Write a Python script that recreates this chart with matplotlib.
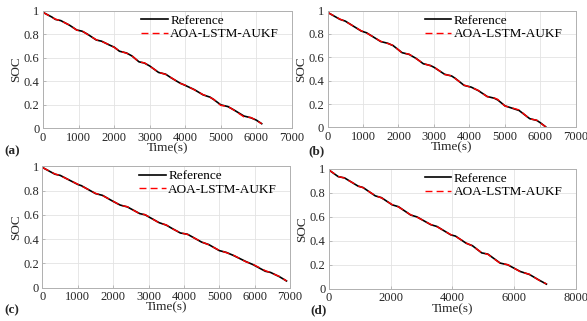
import matplotlib
matplotlib.use("Agg")
import matplotlib.pyplot as plt

plt.rcParams['font.family'] = ['Liberation Serif', 'DejaVu Serif']

# ---------------- data ----------------
t_a = [0, 250, 350, 500, 750, 950, 1100, 1250, 1500, 1650, 1850, 2000, 2150, 2350, 2500, 2700, 2850, 3000,
       3250, 3450, 3600, 3850, 4000, 4250, 4500, 4700, 4800, 5000, 5200, 5350, 5650, 5850, 6000, 6150]
ref_a = [0.985, 0.945, 0.925, 0.915, 0.875, 0.835, 0.825, 0.800, 0.750, 0.740, 0.710, 0.690, 0.655, 0.640,
         0.615, 0.565, 0.555, 0.530, 0.475, 0.460, 0.430, 0.385, 0.365, 0.330, 0.285, 0.265, 0.245, 0.200,
         0.185, 0.160, 0.105, 0.090, 0.070, 0.040]
est_a = [0.985, 0.943, 0.927, 0.913, 0.877, 0.833, 0.827, 0.798, 0.752, 0.738, 0.712, 0.688, 0.657, 0.638,
         0.617, 0.563, 0.557, 0.528, 0.477, 0.458, 0.432, 0.383, 0.367, 0.328, 0.287, 0.263, 0.247, 0.195,
         0.187, 0.158, 0.098, 0.092, 0.068, 0.040]

t_b = [0, 350, 500, 950, 1100, 1500, 1700, 1850, 2100, 2300, 2500, 2700, 2900, 3000, 3300, 3500, 3600,
       3850, 4050, 4250, 4500, 4700, 4800, 5000, 5200, 5400, 5700, 5900, 6000, 6150]
ref_b = [0.985, 0.925, 0.910, 0.825, 0.810, 0.735, 0.720, 0.700, 0.640, 0.625, 0.590, 0.545, 0.530, 0.515,
         0.455, 0.440, 0.420, 0.360, 0.345, 0.315, 0.265, 0.250, 0.235, 0.185, 0.165, 0.145, 0.075, 0.060,
         0.040, 0.005]
est_b = [0.985, 0.927, 0.908, 0.827, 0.808, 0.737, 0.718, 0.702, 0.638, 0.627, 0.588, 0.547, 0.528, 0.517,
         0.453, 0.442, 0.418, 0.362, 0.343, 0.317, 0.263, 0.252, 0.240, 0.183, 0.167, 0.150, 0.073, 0.062,
         0.038, 0.005]

t_c = [0, 350, 500, 1000, 1100, 1500, 1700, 2000, 2200, 2400, 2750, 2900, 3300, 3500, 3650, 3900, 4100,
       4500, 4700, 5000, 5200, 5400, 5750, 5950, 6300, 6450, 6700, 6900]
ref_c = [0.990, 0.935, 0.925, 0.850, 0.840, 0.775, 0.760, 0.710, 0.680, 0.665, 0.610, 0.600, 0.535, 0.515,
         0.490, 0.450, 0.440, 0.375, 0.355, 0.305, 0.290, 0.265, 0.215, 0.190, 0.135, 0.125, 0.090, 0.055]
est_c = [0.990, 0.937, 0.923, 0.852, 0.838, 0.777, 0.758, 0.712, 0.678, 0.667, 0.608, 0.602, 0.533, 0.517,
         0.488, 0.452, 0.438, 0.377, 0.353, 0.307, 0.288, 0.267, 0.213, 0.192, 0.140, 0.123, 0.092, 0.055]

t_d = [0, 300, 500, 950, 1100, 1500, 1700, 2050, 2250, 2650, 2850, 3300, 3500, 3950, 4100, 4450, 4650,
       4950, 5150, 5550, 5800, 6200, 6500, 6800, 7050]
ref_d = [0.990, 0.935, 0.925, 0.855, 0.845, 0.775, 0.760, 0.700, 0.685, 0.615, 0.600, 0.535, 0.520, 0.450,
         0.440, 0.380, 0.360, 0.300, 0.290, 0.215, 0.200, 0.145, 0.120, 0.075, 0.040]
est_d = [0.990, 0.937, 0.923, 0.857, 0.843, 0.777, 0.758, 0.702, 0.683, 0.617, 0.598, 0.537, 0.518, 0.452,
         0.438, 0.382, 0.358, 0.302, 0.288, 0.213, 0.202, 0.143, 0.122, 0.073, 0.042]

panels = [
    ("(a)", t_a, ref_a, est_a, 7000, [0, 1000, 2000, 3000, 4000, 5000, 6000, 7000]),
    ("(b)", t_b, ref_b, est_b, 7000, [0, 1000, 2000, 3000, 4000, 5000, 6000, 7000]),
    ("(c)", t_c, ref_c, est_c, 7000, [0, 1000, 2000, 3000, 4000, 5000, 6000, 7000]),
    ("(d)", t_d, ref_d, est_d, 8000, [0, 2000, 4000, 6000, 8000]),
]
yticks = [0, 0.2, 0.4, 0.6, 0.8, 1]
ytick_labels = ["0", "0.2", "0.4", "0.6", "0.8", "1"]

# ---------------- layout ----------------
fig = plt.figure(figsize=(5.87, 3.21), dpi=100)
rects = [
    [0.0733, 0.600, 0.424, 0.367],
    [0.5580, 0.603, 0.423, 0.364],
    [0.0724, 0.104, 0.4217, 0.378],
    [0.5605, 0.100, 0.4203, 0.374],
]
label_pos = [(0.008, 0.518), (0.525, 0.518), (0.008, 0.025), (0.528, 0.025)]

for (tag, t, ref, est, xmax, xticks), rect, lp in zip(panels, rects, label_pos):
    ax = fig.add_axes(rect)
    ax.plot(t, ref, color='black', lw=1.2, label='Reference')
    ax.plot(t, est, color='red', lw=1.0, ls=(0, (5, 3)), label='AOA-LSTM-AUKF')
    ax.set_xlim(0, xmax)
    ax.set_ylim(0, 1)
    ax.set_xticks(xticks)
    ax.set_xticklabels([str(v) for v in xticks])
    ax.set_yticks(yticks)
    ax.set_yticklabels(ytick_labels)
    ax.grid(True, color='#e3e3e3', lw=0.6)
    ax.set_axisbelow(True)
    for s in ax.spines.values():
        s.set_color('#b0b0b0')
        s.set_linewidth(0.7)
    ax.tick_params(direction='in', length=2, width=0.6, color='#b0b0b0', labelsize=9, pad=2.5,
                   labelcolor='#262626')
    ax.set_xlabel('Time(s)', fontsize=9.5, labelpad=-1, color='#262626')
    ax.set_ylabel('SOC', fontsize=9.5, labelpad=1, color='#262626')
    leg = ax.legend(loc='upper right', bbox_to_anchor=(0.98, 1.035), frameon=False, fontsize=9.5,
                    handlelength=2.0, handletextpad=0.2, borderaxespad=0.2, labelspacing=0.1)
    fig.text(lp[0], lp[1], tag, fontsize=9.5, fontweight='bold', color='#262626')

fig.savefig('out.png', dpi=100)
